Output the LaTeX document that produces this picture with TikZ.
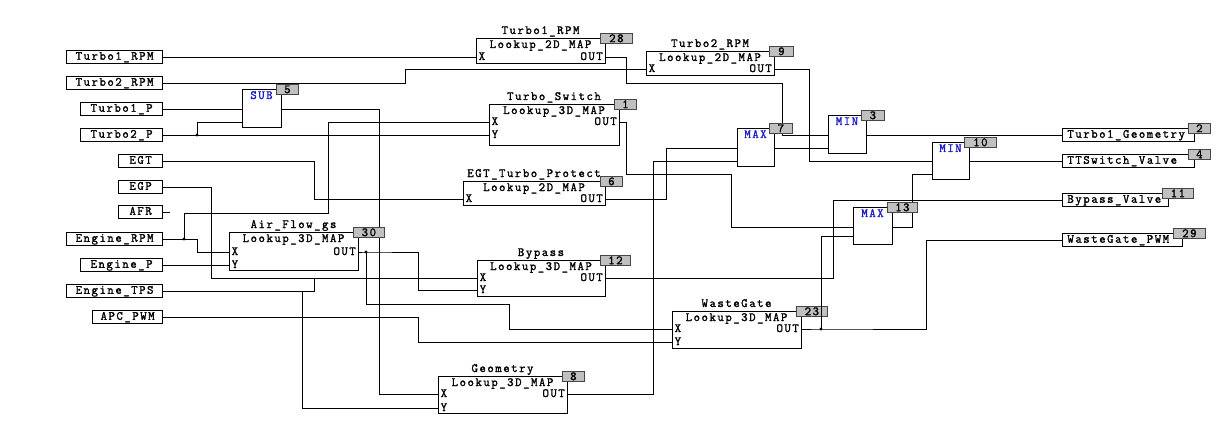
\documentclass[tikz,border=0pt]{standalone}
\usepackage{fontspec}
\usetikzlibrary{backgrounds}
\setmonofont{Latin Modern Mono}[LetterSpace=12,FakeBold=1.6]
\definecolor{opblue}{RGB}{30,30,200}
\definecolor{badgefill}{RGB}{192,192,192}
\definecolor{badgeedge}{RGB}{70,70,70}
\tikzset{
  lbl/.style={inner sep=0pt, text height=7pt, text depth=2pt},
  oplbl/.style={lbl, text=opblue},
  blk/.style={draw, fill=white, line width=0.8pt, inner sep=0pt},
  inbox/.style={draw, fill=white, line width=0.8pt, inner sep=0pt, minimum height=13pt, anchor=east, text height=7.5pt, text depth=2pt},
  outbox/.style={draw, fill=white, line width=0.8pt, inner ysep=0pt, inner xsep=5pt, minimum height=13pt, anchor=west, align=left, text height=7.5pt, text depth=2pt},
  badge/.style={draw=badgeedge, fill=badgefill, line width=0.8pt, inner sep=0pt, minimum height=10pt, text height=7.5pt, text depth=0pt, minimum width=22pt},
  wire/.style={line width=0.8pt},
}
\newcommand\mapblk[9]{%
  \node[blk, minimum width={#4pt-#2pt}, minimum height={#5pt-#3pt}] (#1) at ({(#2+#4)/2},{(#3+#5)/2}) {};
  \node[lbl, anchor=base] (#1-title) at ({(#2+#4)/2},#3-4) {#6};
  \node[lbl, anchor=base] (#1-type) at ({(#2+#4)/2},#3+10) {#7};
  \node[badge, anchor=north west, minimum width=#9pt] (#1-badge) at (#4-5,#3-5) {#8};
}
\newcommand\opblk[8]{%
  \node[blk, minimum width={#4pt-#2pt}, minimum height={#5pt-#3pt}] (#1) at ({(#2+#4)/2},{(#3+#5)/2}) {};
  \node[oplbl, anchor=base] (#1-lbl) at ({(#2+#4)/2},#3+10) {#6};
  \node[badge, anchor=north west, minimum width=#8pt] (#1-badge) at (#4-5,#3-5) {#7};
}
\newcommand\pinlbl[5]{\node[lbl, anchor=base #5] (#1) at (#2,#3) {#4};}
\begin{document}
\begin{tikzpicture}[x=1pt,y=-1pt,font=\ttfamily\fontsize{12.5}{12.5}\selectfont]
\useasboundingbox (0,0) rectangle (1221,433);

% ---------- inputs ----------
\node[inbox, minimum width=96pt] (i-t1rpm) at (163,57) {Turbo1\_RPM};
\node[inbox, minimum width=96pt] (i-t2rpm) at (163,83) {Turbo2\_RPM};
\node[inbox, minimum width=82pt] (i-t1p) at (163,109) {Turbo1\_P};
\node[inbox, minimum width=82pt] (i-t2p) at (163,135) {Turbo2\_P};
\node[inbox, minimum width=44pt] (i-egt) at (163,161) {EGT};
\node[inbox, minimum width=44pt] (i-egp) at (163,187) {EGP};
\node[inbox, minimum width=44pt] (i-afr) at (163,212) {AFR};
\node[inbox, minimum width=96pt] (i-erpm) at (163,239) {Engine\_RPM};
\node[inbox, minimum width=82pt] (i-ep) at (163,265) {Engine\_P};
\node[inbox, minimum width=96pt] (i-etps) at (163,291) {Engine\_TPS};
\node[inbox, minimum width=70pt] (i-apc) at (163,317) {APC\_PWM};

% ---------- lookup blocks ----------
\mapblk{t1}{476}{38}{605}{63}{Turbo1\_RPM}{Lookup\_2D\_MAP}{28}{32}
\pinlbl{t1-xl}{478.5}{60}{X}{west}
\pinlbl{t1-ol}{603}{60}{OUT}{east}
\coordinate (t1-x) at (476,57); \coordinate (t1-o) at (605,57);

\mapblk{t2}{646}{51}{774}{75}{Turbo2\_RPM}{Lookup\_2D\_MAP}{9}{24}
\pinlbl{t2-xl}{648.5}{72}{X}{west}
\pinlbl{t2-ol}{772}{72}{OUT}{east}
\coordinate (t2-x) at (646,69); \coordinate (t2-o) at (774,69);

\mapblk{ts}{489}{104}{619}{145}{Turbo\_Switch}{Lookup\_3D\_MAP}{1}{22}
\pinlbl{ts-xl}{491.5}{125}{X}{west}
\pinlbl{ts-yl}{491.5}{138}{Y}{west}
\pinlbl{ts-ol}{617}{125}{OUT}{east}
\coordinate (ts-x) at (489,122); \coordinate (ts-y) at (489,135); \coordinate (ts-o) at (619,122);

\mapblk{egtp}{463}{181}{605}{205}{EGT\_Turbo\_Protect}{Lookup\_2D\_MAP}{6}{22}
\pinlbl{egtp-xl}{465.5}{202}{X}{west}
\pinlbl{egtp-ol}{603}{202}{OUT}{east}
\coordinate (egtp-x) at (463,199); \coordinate (egtp-o) at (605,199);

\mapblk{af}{229}{232}{358}{270}{Air\_Flow\_gs}{Lookup\_3D\_MAP}{30}{31}
\pinlbl{af-xl}{231.5}{255}{X}{west}
\pinlbl{af-yl}{231.5}{268}{Y}{west}
\pinlbl{af-ol}{356}{255}{OUT}{east}
\coordinate (af-x) at (229,252); \coordinate (af-y) at (229,265); \coordinate (af-o) at (358,252);

\mapblk{bp}{477}{260}{605}{296}{Bypass}{Lookup\_3D\_MAP}{12}{30}
\pinlbl{bp-xl}{479.5}{281}{X}{west}
\pinlbl{bp-yl}{479.5}{293}{Y}{west}
\pinlbl{bp-ol}{603}{281}{OUT}{east}
\coordinate (bp-x) at (477,278); \coordinate (bp-y) at (477,290); \coordinate (bp-o) at (605,278);

\mapblk{wg}{672}{311}{801}{348}{WasteGate}{Lookup\_3D\_MAP}{23}{31}
\pinlbl{wg-xl}{674.5}{332}{X}{west}
\pinlbl{wg-yl}{674.5}{345}{Y}{west}
\pinlbl{wg-ol}{799}{332}{OUT}{east}
\coordinate (wg-x) at (672,329); \coordinate (wg-y) at (672,342); \coordinate (wg-o) at (801,329);

\mapblk{geo}{438}{376}{567}{413}{Geometry}{Lookup\_3D\_MAP}{8}{22}
\pinlbl{geo-xl}{440.5}{397}{X}{west}
\pinlbl{geo-yl}{440.5}{411}{Y}{west}
\pinlbl{geo-ol}{565}{397}{OUT}{east}
\coordinate (geo-x) at (438,394); \coordinate (geo-y) at (438,408); \coordinate (geo-o) at (567,394);

% ---------- operator blocks ----------
\opblk{sub}{242}{89}{281}{127}{SUB}{5}{22}
\coordinate (sub-i1) at (242,109); \coordinate (sub-i2) at (242,122); \coordinate (sub-o) at (281,109);
\opblk{mx7}{737}{128}{774}{166}{MAX}{7}{23}
\coordinate (mx7-i1) at (737,148); \coordinate (mx7-i2) at (737,161); \coordinate (mx7-o) at (774,148);
\opblk{mn3}{828}{115}{866}{153}{MIN}{3}{23}
\coordinate (mn3-i1) at (828,135); \coordinate (mn3-i2) at (828,148); \coordinate (mn3-o) at (866,135);
\opblk{mn10}{932}{142}{969}{179}{MIN}{10}{32}
\coordinate (mn10-i1) at (932,161); \coordinate (mn10-i2) at (932,174); \coordinate (mn10-o) at (969,161);
\opblk{mx13}{853}{207}{892}{244}{MAX}{13}{30}
\coordinate (mx13-i1) at (853,227); \coordinate (mx13-i2) at (853,236); \coordinate (mx13-o) at (892,227);

% ---------- outputs ----------
\node[outbox, minimum width=132pt, text width=122pt] (o-t1geo) at (1062,135) {Turbo1\_Geometry};
\node[badge, anchor=north west, minimum width=22pt] (o-t1geo-b) at (1188,123) {2};
\node[outbox, minimum width=132pt, text width=122pt] (o-ttsv) at (1062,161) {TTSwitch\_Valve};
\node[badge, anchor=north west, minimum width=22pt] (o-ttsv-b) at (1188,149) {4};
\node[outbox, minimum width=106pt, text width=96pt] (o-bpv) at (1062,200) {Bypass\_Valve};
\node[badge, anchor=north west, minimum width=31pt] (o-bpv-b) at (1162,188) {11};
\node[outbox, minimum width=120pt, text width=110pt] (o-wgp) at (1062,240) {WasteGate\_PWM};
\node[badge, anchor=north west, minimum width=32pt] (o-wgp-b) at (1173,228) {29};

% ---------- junctions ----------
\coordinate (j1) at (197,135);
\coordinate (j2) at (184,239);
\coordinate (j3) at (366,252);
\coordinate (j4) at (821,329);
\coordinate (afr-end) at (170,212);
\fill (j1) circle (1.7);
\fill (j2) circle (1.7);
\fill (j3) circle (1.7);
\fill (j4) circle (1.7);

% ---------- wires ----------
\begin{scope}[on background layer, wire]
\draw (i-t1rpm.east) -- (t1-x);
\draw (i-t2rpm.east) -- (405,83) -- (405,69) -- (t2-x);
\draw (i-t1p.east) -- (sub-i1);
\draw (i-t2p.east) -- (ts-y);
\draw (j1) -- (197,122) -- (sub-i2);
\draw (sub-o) -- (379,109) -- (379,394) -- (geo-x);
\draw (i-egt.east) -- (314,161) -- (314,199) -- (egtp-x);
\draw (i-egp.east) -- (211,187) -- (211,278) -- (bp-x);
\draw (i-afr.east) -- (afr-end);
\draw (i-erpm.east) -- (197,239) -- (197,252) -- (af-x);
\draw (j2) -- (184,213) -- (328,213) -- (328,122) -- (ts-x);
\draw (i-ep.east) -- (af-y);
\draw (i-etps.east) -- (314,291) -- (314,278);
\draw (302,291) -- (302,408) -- (geo-y);
\draw (i-apc.east) -- (418,317) -- (418,342) -- (wg-y);
\draw (af-o) -- (j3) -- (418,252) -- (418,290) -- (bp-y);
\draw (j3) -- (366,304) -- (509,304) -- (509,329) -- (wg-x);
\draw (t1-o) -- (626,57) -- (626,83) -- (782,83) -- (782,135) -- (mn3-i1);
\draw (t2-o) -- (809,69) -- (809,161) -- (mn10-i1);
\draw (ts-o) -- (626,122) -- (626,174) -- (731,174) -- (731,227) -- (mx13-i1);
\draw (egtp-o) -- (666,199) -- (666,148) -- (mx7-i1);
\draw (geo-o) -- (653,394) -- (653,161) -- (mx7-i2);
\draw (mx7-o) -- (mn3-i2);
\draw (mn3-o) -- (o-t1geo.west);
\draw (mx13-o) -- (912,227) -- (912,174) -- (mn10-i2);
\draw (mn10-o) -- (o-ttsv.west);
\draw (bp-o) -- (833,278) -- (833,200) -- (o-bpv.west);
\draw (wg-o) -- (j4) -- (926,329) -- (926,240) -- (o-wgp.west);
\end{scope}
\draw[wire] (j4) -- (821,236) -- (mx13-i2);
\end{tikzpicture}
\end{document}
